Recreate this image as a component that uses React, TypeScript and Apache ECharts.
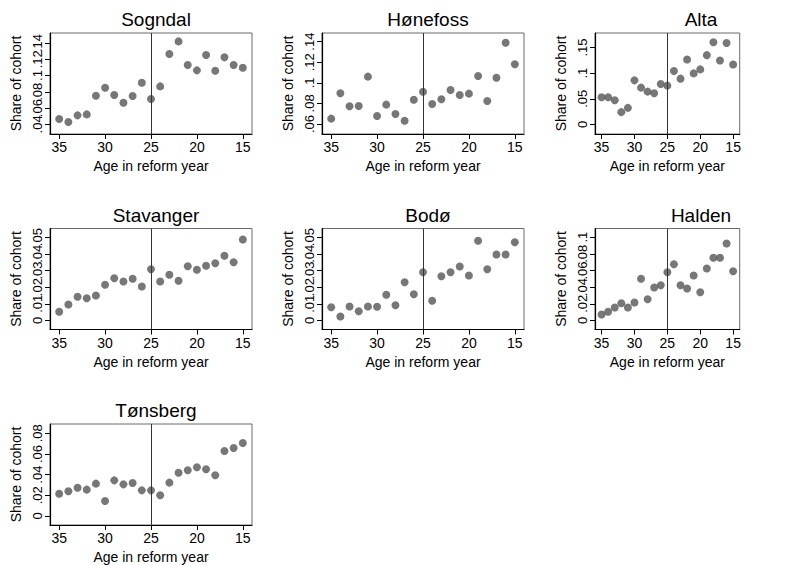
import React, { useEffect, useRef } from "react";
import * as echarts from "echarts";

const ages = [35, 34, 33, 32, 31, 30, 29, 28, 27, 26, 25, 24, 23, 22, 21, 20, 19, 18, 17, 16, 15];

const cities = ["Sogndal", "Hønefoss", "Alta", "Stavanger", "Bodø", "Halden", "Tønsberg"];

const sogndal = [0.0466, 0.0429, 0.0511, 0.0523, 0.0752, 0.0851, 0.0761, 0.0666, 0.0748, 0.0912, 0.0711, 0.0867, 0.1265, 0.142, 0.113, 0.1064, 0.1252, 0.106, 0.1224, 0.113, 0.1097];
const honefoss = [0.0652, 0.0898, 0.0772, 0.0775, 0.106, 0.0678, 0.0788, 0.0697, 0.0632, 0.0836, 0.0914, 0.0794, 0.084, 0.093, 0.0882, 0.0895, 0.1066, 0.0823, 0.105, 0.139, 0.118];
const alta = [0.053, 0.053, 0.0472, 0.0239, 0.0323, 0.086, 0.0718, 0.064, 0.0608, 0.0789, 0.0757, 0.1041, 0.0893, 0.1268, 0.0996, 0.1074, 0.1352, 0.1604, 0.1248, 0.1591, 0.1171];
const stavanger = [0.0052, 0.0096, 0.0142, 0.0134, 0.015, 0.0214, 0.0254, 0.0234, 0.025, 0.0204, 0.0308, 0.0234, 0.0274, 0.0238, 0.0326, 0.0304, 0.0328, 0.0344, 0.0388, 0.035, 0.0486];
const bodo = [0.008, 0.0024, 0.0084, 0.0056, 0.0084, 0.0082, 0.0154, 0.0092, 0.023, 0.0158, 0.029, 0.0118, 0.0266, 0.029, 0.0324, 0.027, 0.0478, 0.0308, 0.0396, 0.0396, 0.047];
const halden = [0.0072, 0.0104, 0.0156, 0.0208, 0.0156, 0.0216, 0.05, 0.0256, 0.0396, 0.0424, 0.058, 0.0676, 0.0424, 0.0384, 0.054, 0.034, 0.0624, 0.0752, 0.0752, 0.0924, 0.0592];
const tonsberg = [0.0216, 0.0239, 0.0274, 0.0255, 0.0313, 0.0145, 0.0345, 0.0306, 0.0319, 0.0248, 0.0248, 0.02, 0.0323, 0.0419, 0.0442, 0.0471, 0.0452, 0.0394, 0.0629, 0.0658, 0.0706];

const seriesValues = [sogndal, honefoss, alta, stavanger, bodo, halden, tonsberg];

const yTicks = [
  [0.04, 0.06, 0.08, 0.1, 0.12, 0.14],
  [0.06, 0.08, 0.1, 0.12, 0.14],
  [0, 0.05, 0.1, 0.15],
  [0, 0.01, 0.02, 0.03, 0.04, 0.05],
  [0, 0.01, 0.02, 0.03, 0.04, 0.05],
  [0, 0.02, 0.04, 0.06, 0.08, 0.1],
  [0, 0.02, 0.04, 0.06, 0.08],
];
const yMin = [0.0282, 0.0503, -0.0188, -0.0054, -0.0054, -0.0108, -0.0087];
const yMax = [0.1523, 0.1484, 0.1785, 0.0552, 0.0552, 0.1104, 0.089];

const xTicks = [35, 30, 25, 20, 15];
const reformAge = 25;

const FONT = "Liberation Sans, Arial, Helvetica, sans-serif";

function fmt(v: number): string {
  if (Math.abs(v) < 1e-9) return "0";
  return String(+v.toFixed(4)).replace(/^0\./, ".").replace(/^-0\./, "-.");
}

export default function App() {
  const ref = useRef<HTMLDivElement>(null);
  useEffect(() => {
    document.body.style.margin = "0";
    const chart = echarts.init(ref.current!, null, { renderer: "svg" });
    const lefts = [50, 322, 595];
    const W = 202;
    const H = 101;
    const grids: any[] = [];
    const xAxes: any[] = [];
    const yAxes: any[] = [];
    const series: any[] = [];
    const titles: any[] = [];
    const yLabelStyle = {
      rotate: 90,
      formatter: (v: number) => fmt(v),
      fontFamily: FONT,
      fontSize: 13,
      color: "#000",
      margin: 6,
      hideOverlap: false,
      showMinLabel: true,
      showMaxLabel: true,
    };
    cities.forEach((city, i) => {
      const col = i % 3;
      const row = Math.floor(i / 3);
      const left = lefts[col];
      const top = 33 + row * 195.5;
      grids.push({
        left,
        top,
        width: W,
        height: H,
        show: true,
        borderColor: "#6a6a6a",
        borderWidth: 1,
        backgroundColor: "#fff",
        containLabel: false,
      });
      titles.push({
        text: city,
        left: left + W / 2,
        top: top - 28,
        textAlign: "center",
        textStyle: { fontFamily: FONT, fontSize: 19, fontWeight: "normal", color: "#000" },
      });
      xAxes.push({
        type: "value",
        gridIndex: i,
        inverse: true,
        min: 14,
        max: 36,
        name: "Age in reform year",
        nameLocation: "middle",
        nameGap: 25,
        nameTextStyle: { fontFamily: FONT, fontSize: 14, color: "#000" },
        axisLine: { show: true, onZero: false, lineStyle: { color: "#000", width: 1.2 } },
        axisTick: { show: true, length: 5, customValues: xTicks, lineStyle: { color: "#000" } },
        axisLabel: {
          customValues: xTicks,
          showMinLabel: true,
          showMaxLabel: true,
          fontFamily: FONT,
          fontSize: 14,
          color: "#000",
          margin: 6,
        },
        splitLine: { show: false },
      });
      const evenTicks = yTicks[i].filter((_, k) => k % 2 === 0);
      const oddTicks = yTicks[i].filter((_, k) => k % 2 === 1);
      yAxes.push({
        type: "value",
        gridIndex: i,
        position: "left",
        min: yMin[i],
        max: yMax[i],
        name: "Share of cohort",
        nameLocation: "middle",
        nameGap: 27,
        nameTextStyle: { fontFamily: FONT, fontSize: 14, color: "#000" },
        axisLine: { show: true, onZero: false, lineStyle: { color: "#000", width: 1.2 } },
        axisTick: { show: true, length: 5, customValues: evenTicks, lineStyle: { color: "#000" } },
        axisLabel: { ...yLabelStyle, customValues: evenTicks },
        splitLine: { show: false },
      });
      yAxes.push({
        type: "value",
        gridIndex: i,
        position: "left",
        offset: 0,
        min: yMin[i],
        max: yMax[i],
        axisLine: { show: false, onZero: false },
        axisTick: { show: true, length: 5, customValues: oddTicks, lineStyle: { color: "#000" } },
        axisLabel: { ...yLabelStyle, customValues: oddTicks },
        splitLine: { show: false },
      });
      series.push({
        type: "scatter",
        xAxisIndex: i,
        yAxisIndex: 2 * i,
        symbol: "circle",
        symbolSize: 8,
        itemStyle: { color: "#555555" },
        data: ages.map((a, k) => [a, seriesValues[i][k]]),
        markLine: {
          silent: true,
          symbol: ["none", "none"],
          label: { show: false },
          lineStyle: { color: "#333", width: 1, type: "solid" },
          data: [{ xAxis: reformAge }],
        },
      });
    });
    chart.setOption({
      animation: false,
      backgroundColor: "#fff",
      title: titles,
      grid: grids,
      xAxis: xAxes,
      yAxis: yAxes,
      series,
    });
    return () => chart.dispose();
  }, []);
  return <div ref={ref} style={{ width: 796, height: 565 }} />;
}
